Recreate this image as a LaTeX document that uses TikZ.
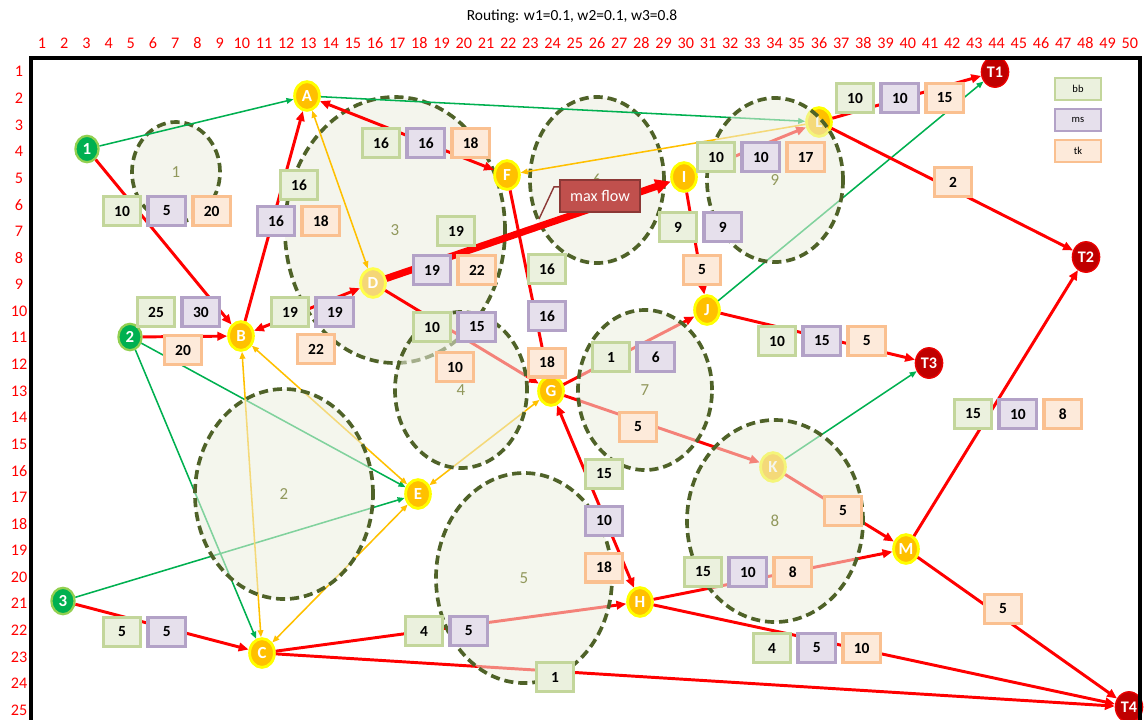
\documentclass[tikz,border=0pt]{standalone}
\usepackage{fontspec}
\setmainfont{Carlito}
\usepackage{tikz}
\usetikzlibrary{shapes.geometric, arrows.meta, positioning}
\definecolor{redflow}{RGB}{255,0,0}
\definecolor{grnflow}{RGB}{0,176,80}
\definecolor{orgflow}{RGB}{255,192,0}
\definecolor{hubfill}{RGB}{255,192,0}
\definecolor{hubring}{RGB}{255,255,0}
\definecolor{palefill}{RGB}{245,214,118}
\definecolor{srcfill}{RGB}{0,176,80}
\definecolor{srcring}{RGB}{146,208,80}
\definecolor{snkfill}{RGB}{192,0,0}
\definecolor{snkring}{RGB}{235,0,0}
\definecolor{zoneline}{RGB}{79,98,40}
\definecolor{zonefill}{RGB}{235,238,222}
\definecolor{zonebg}{RGB}{244,245,237}
\definecolor{zonetxt}{RGB}{145,152,92}
\definecolor{bbline}{RGB}{195,214,155}
\definecolor{bbfill}{RGB}{235,241,222}
\definecolor{msline}{RGB}{179,162,199}
\definecolor{msfill}{RGB}{230,224,236}
\definecolor{tkline}{RGB}{250,192,144}
\definecolor{tkfill}{RGB}{253,234,218}
\definecolor{mffill}{RGB}{192,80,77}
\definecolor{mfline}{RGB}{140,56,54}

\begin{document}
\begin{tikzpicture}[x=0.025cm, y=-0.025cm,
  node distance=0.1cm and 0.1cm,
  hub/.style={ellipse, draw=hubring, fill=hubfill, line width=2pt,
              minimum width=0.62cm, minimum height=0.72cm, inner sep=0pt,
              text=white, font=\fontsize{12}{13}\selectfont\bfseries},
  hubpale/.style={hub, fill=palefill, draw=hubring!70!white},
  src/.style={hub, draw=srcring, fill=srcfill, line width=1.6pt,
              minimum width=0.58cm, minimum height=0.66cm},
  snk/.style={hub, draw=snkring, fill=snkfill, line width=1pt,
              minimum width=0.68cm, minimum height=0.76cm,
              font=\fontsize{11.5}{12}\selectfont\bfseries},
  box/.style={rectangle, line width=2.3pt, minimum width=0.94cm,
              minimum height=0.72cm, inner sep=0pt,
              font=\fontsize{11}{12}\selectfont\bfseries},
  bb/.style={box, draw=bbline, fill=bbfill},
  ms/.style={box, draw=msline, fill=msfill},
  tk/.style={box, draw=tkline, fill=tkfill},
  legendbox/.style={minimum width=1.15cm, minimum height=0.55cm, line width=2pt,
              font=\fontsize{7.5}{9}\selectfont},
  zone/.style={ellipse, draw=zoneline, line width=2.6pt,
              dash pattern=on 6.5pt off 3.5pt, text=zonetxt,
              font=\fontsize{12}{14}\selectfont, inner sep=0pt},
  zoneback/.style={zone, fill=zonebg},
  zonefront/.style={zone, fill=zonefill, fill opacity=0.55, text opacity=1},
  redge/.style={draw=redflow, line width=2.1pt, >={Triangle[length=7pt, width=6pt]}},
  maxedge/.style={draw=redflow, line width=5pt, >={Triangle[length=11pt, width=10pt]}},
  gedge/.style={draw=grnflow, line width=1.1pt, >={Triangle[length=5pt, width=4pt]}},
  oedge/.style={draw=orgflow, line width=1.1pt, >={Triangle[length=5pt, width=4pt]}},
  axisnum/.style={text=red, font=\fontsize{11.5}{12}\selectfont},
  mflow/.style={rectangle, fill=mffill, draw=mfline, line width=1.5pt,
              minimum width=2.0cm, minimum height=0.8cm, text=white,
              font=\fontsize{11.5}{12}\selectfont},
]
  \useasboundingbox (0,0) rectangle (1144,719);

  % zones behind the arcs
  \node[zoneback, minimum width=2.2cm, minimum height=2.5cm] (z1) at (176,172) {1};
  \node[zoneback, minimum width=5.5cm, minimum height=6.65cm] (z3) at (395,230) {3};
  \node[zoneback, minimum width=3.35cm, minimum height=4.15cm] (z6) at (597,180) {6};

  % sources, hubs, sinks
  \node[src] (s1) at (87,149) {1};
  \node[src] (s2) at (130,337) {2};
  \node[src] (s3) at (63,601) {3};
  \node[hub] (A) at (307,96) {A};
  \node[hub] (B) at (241,336) {B};
  \node[hub] (C) at (262,653) {C};
  \node[hubpale] (D) at (373,283) {D};
  \node[hub] (E) at (418,494) {E};
  \node[hub] (F) at (507,175) {F};
  \node[hub] (G) at (551,391) {G};
  \node[hub] (H) at (640,602) {H};
  \node[hub] (I) at (684,177) {I};
  \node[hub] (J) at (707,310) {J};
  \node[hub] (K) at (773,467) {K};
  \node[hub] (L) at (819,122) {L};
  \node[hub] (M) at (906,549) {M};
  \node[snk] (T1) at (995,72) {T1};
  \node[snk] (T2) at (1086,257) {T2};
  \node[snk] (T3) at (929,363) {T3};
  \node[snk] (T4) at (1129,707) {T4};

  % green arcs
  \draw[gedge, ->] (s1) -- (A);
  \draw[gedge, ->] (A) -- (L);
  \draw[gedge, ->] (s2) -- (E);
  \draw[gedge, ->] (s2) -- (C);
  \draw[gedge, ->] (s3) -- (E);
  \draw[gedge, ->] (J) -- (T1);
  \draw[gedge, ->] (K) -- (T3);
  % orange arcs
  \draw[oedge, <->] (A) -- (D);
  \draw[oedge, <->] (B) -- (C);
  \draw[oedge, <->] (B) -- (E);
  \draw[oedge, <->] (C) -- (E);
  \draw[oedge, <->] (E) -- (G);
  \draw[oedge, ->] (L) -- (F);
  % red arcs
  \draw[redge, ->] (s1) -- (B);
  \draw[redge, ->] (s2) -- (B);
  \draw[redge, ->] (s3) -- (C);
  \draw[redge, ->] (B) -- (A);
  \draw[redge, <->] (A) -- (F);
  \draw[redge, <->] (B) -- (D);
  \draw[redge, ->] (D) -- (G);
  \draw[redge, ->] (F) -- (G);
  \draw[redge, ->] (G) -- (J);
  \draw[redge, ->] (G) -- (K);
  \draw[redge, <->] (G) -- (H);
  \draw[redge, ->] (C) -- (H);
  \draw[redge, ->] (C) -- (T4);
  \draw[redge, ->] (H) -- (T4);
  \draw[redge, ->] (H) -- (M);
  \draw[redge, ->] (K) -- (M);
  \draw[redge, ->] (M) -- (T2);
  \draw[redge, ->] (M) -- (T4);
  \draw[redge, ->] (I) -- (J);
  \draw[redge, ->] (I) -- (L);
  \draw[redge, ->] (L) -- (T1);
  \draw[redge, ->] (L) -- (T2);
  \draw[redge, ->] (J) -- (T3);
  \draw[maxedge, ->] (D) -- (I);

  % zones over the arcs
  \node[zonefront, minimum width=4.45cm, minimum height=5.25cm] (z2) at (284,494) {2};
  \node[zonefront, minimum width=3.3cm, minimum height=3.9cm] (z4) at (461,390) {4};
  \node[zonefront, minimum width=4.4cm, minimum height=5.25cm] (z5) at (524,578) {5};
  \node[zonefront, minimum width=3.35cm, minimum height=4.0cm] (z7) at (645,390) {7};
  \node[zonefront, minimum width=4.4cm, minimum height=5.05cm] (z8) at (775,521) {8};
  \node[zonefront, minimum width=3.4cm, minimum height=4.1cm] (z9) at (775,180) {9};

  % arc weights
  \node[bb] (bb1B) at (122,211) {10};
  \node[ms, right=of bb1B] (ms1B) {5};
  \node[tk, right=of ms1B] (tk1B) {20};

  \node[bb] (bbBA) at (299,185) {16};
  \node[ms] (msBA) at (276,221) {16};
  \node[tk, right=of msBA] (tkBA) {18};

  \node[bb] (bbAF) at (381,143) {16};
  \node[ms, right=of bbAF] (msAF) {16};
  \node[tk, right=of msAF] (tkAF) {18};

  \node[bb] (bbDI) at (456,231) {19};
  \node[ms] (msDI) at (432,270) {19};
  \node[tk, right=of msDI] (tkDI) {22};

  \node[bb] (bbBD) at (290,312) {19};
  \node[ms, right=of bbBD] (msBD) {19};
  \node[tk] (tkBD) at (316,349) {22};

  \node[bb] (bb2B) at (156,312) {25};
  \node[ms, right=of bb2B] (ms2B) {30};
  \node[tk] (tk2B) at (183,350) {20};

  \node[bb] (bbDG) at (432,327) {10};
  \node[ms, right=of bbDG] (msDG) {15};
  \node[tk] (tkDG) at (455,367) {10};

  \node[bb] (bbFG) at (547,269) {16};
  \node[ms, below=0.37cm of bbFG] (msFG) {16};
  \node[tk, below=0.37cm of msFG] (tkFG) {18};

  \node[bb] (bbGJ) at (611,357) {1};
  \node[ms, right=of bbGJ] (msGJ) {6};

  \node[tk] (tkGK) at (638,427) {5};

  \node[bb] (bbGH) at (604,474) {15};
  \node[ms, below=0.37cm of bbGH] (msGH) {10};
  \node[tk, below=0.37cm of msGH] (tkGH) {18};

  \node[bb] (bbCH) at (424,631) {4};
  \node[ms, right=of bbCH] (msCH) {5};

  \node[bb] (bbCT) at (555,677) {1};

  \node[bb] (bbHT) at (772,648) {4};
  \node[ms, right=of bbHT] (msHT) {5};
  \node[tk, right=of msHT] (tkHT) {10};

  \node[bb] (bbHM) at (703,572) {15};
  \node[ms, right=of bbHM] (msHM) {10};
  \node[tk, right=of msHM] (tkHM) {8};

  \node[tk] (tkKM) at (843,511) {5};

  \node[bb] (bbMT) at (973,414) {15};
  \node[ms, right=of bbMT] (msMT) {10};
  \node[tk, right=of msMT] (tkMT) {8};

  \node[tk] (tkMT4) at (1003,609) {5};

  \node[bb] (bbIJ) at (678,227) {9};
  \node[ms, right=of bbIJ] (msIJ) {9};
  \node[tk] (tkIJ) at (702,270) {5};

  \node[bb] (bbIL) at (716,157) {10};
  \node[ms, right=of bbIL] (msIL) {10};
  \node[tk, right=of msIL] (tkIL) {17};

  \node[bb] (bbLT) at (855,98) {10};
  \node[ms, right=of bbLT] (msLT) {10};
  \node[tk, right=of msLT] (tkLT) {15};

  \node[tk] (tkLT2) at (953,182) {2};

  \node[bb] (bbJT) at (777,341) {10};
  \node[ms, right=of bbJT] (msJT) {15};
  \node[tk, right=of msJT] (tkJT) {5};

  \node[bb] (bb3C) at (122,632) {5};
  \node[ms, right=of bb3C] (ms3C) {5};

  % callout
  \node[mflow] (mf) at (600,196) {max flow};
  \coordinate (mftip) at (539,219);
  \draw[mfline, line width=1pt] ([yshift=-0.2cm]mf.north west) -- ++(-5,0) -- (mftip);

  % legend
  \node[bb, legendbox] (lgbb) at (1078,89) {bb};
  \node[ms, legendbox] (lgms) at (1078,120) {ms};
  \node[tk, legendbox] (lgtk) at (1078,151) {tk};

  % grid numbers, frame, title
  \foreach \i in {1,...,50}
    \node[axisnum] (c\i) at ({42+(\i-1)*22.2},43) {\i};
  \foreach \j in {1,...,25}
    \node[axisnum] (r\j) at (19,{71.7+(\j-1)*26.6}) {\j};
  \draw[line width=2.2pt] (31,730) -- (31,58) -- (1140,58) -- (1140,730);
  \node[font=\fontsize{11}{12}\selectfont] (title) at (572,16) {Routing: w1=0.1, w2=0.1, w3=0.8};
\end{tikzpicture}
\end{document}
